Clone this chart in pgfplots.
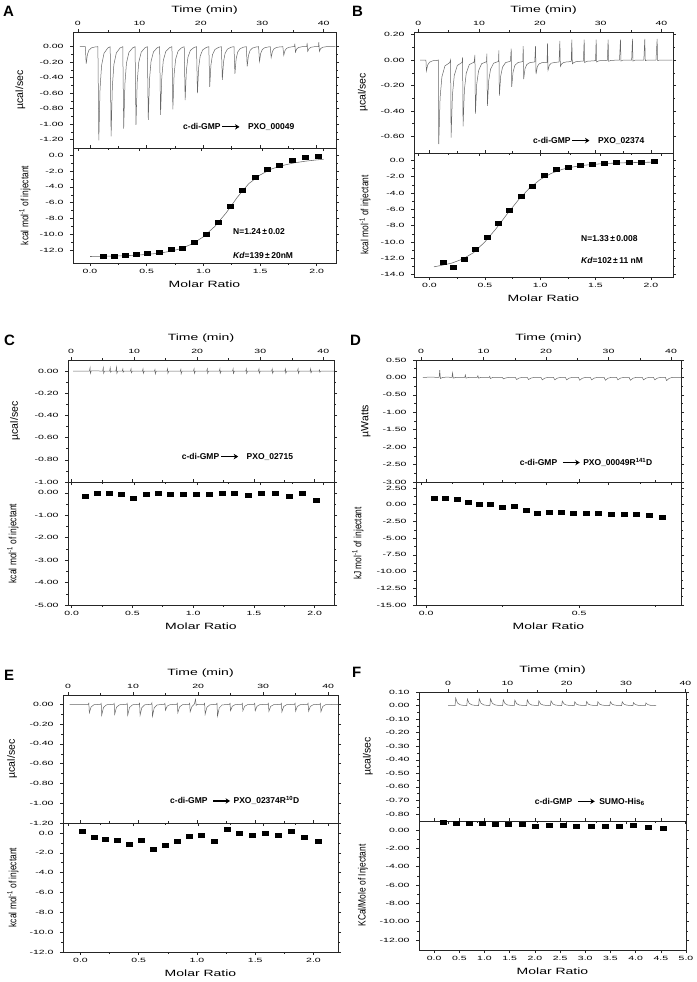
\documentclass[border=0pt]{standalone}
\usepackage{fontspec}
\setmainfont{Liberation Sans}
\usepackage{graphicx}
\usepackage{pgfplots}
\pgfplotsset{compat=1.18}
\usetikzlibrary{arrows.meta}

\newcommand{\arr}{\tikz[baseline=-0.6ex]\draw[line width=1.1pt,-{Stealth[length=4.5pt,width=5.5pt]}] (0,0)--(17pt,0);}

\pgfplotsset{
  itc/.style={
    scale only axis, anchor=north west, clip=true,
    axis line style={line width=0.7pt, black!85},
    every tick/.style={black!85, line width=0.5pt},
    major tick length=3pt, minor tick length=1.8pt,
    tick align=outside, minor tick num=1,
    scaled ticks=false,
    /pgf/number format/assume math mode=true,
    /pgf/number format/fixed, /pgf/number format/fixed zerofill,
    tick label style={font=\fontsize{10.5}{10}\selectfont},
    xticklabel={\scalebox{1}[0.58]{\axisdefaultticklabel}},
    yticklabel={\scalebox{1}[0.58]{\axisdefaultticklabel}},
    yticklabel style={xshift=-3pt},
    label style={font=\fontsize{14}{14}\selectfont},
  },
  top/.style={itc, xticklabel pos=upper, xtick={0,10,20,30,40},
    xticklabel style={/pgf/number format/precision=0},
    xlabel={\scalebox{1}[0.65]{Time (min)}}},
  bot/.style={itc, xlabel={\scalebox{1}[0.65]{Molar Ratio}},
    xticklabel style={/pgf/number format/precision=1}},
  yprec/.style={yticklabel style={/pgf/number format/precision=#1}},
  ylab/.style={ylabel style={at={(axis description cs:#1,0.5)}, anchor=center, font=\fontsize{10.5}{10}\selectfont}},
  trace/.style={no marks, line width=0.5pt, black!60},
  pts/.style={only marks, mark=square*, mark size=2pt, mark options={xscale=1.5, fill=black, draw=black}},
  fit/.style={no marks, line width=0.55pt, black!60},
}
\newcommand{\ucal}{\scalebox{1}[1]{µcal/sec}}
\newcommand{\kcal}{\scalebox{0.8}[1]{kcal mol\textsuperscript{-1} of injectant}}

\begin{document}
\begin{tikzpicture}
\useasboundingbox (0,0) rectangle (696pt,-982pt);

% ---------------- A ----------------
\begin{axis}[top, at={(73pt,-32pt)}, width=263pt, height=116pt,
  xmin=-0.8, xmax=42, ymin=-1.31, ymax=0.19,
  ytick={0,-0.2,-0.4,-0.6,-0.8,-1,-1.2}, yprec=2,
  ylab=-0.2, ylabel={\ucal}]
\addplot[trace] coordinates {(0.3,0)(1.2,0)(1.35,-0.22)(1.55,-0.099)(1.8,-0.044)(2.2,-0.015)(2.8,-0.003)
(3.25,0)(3.4,-1.21)(3.6,-0.545)(3.85,-0.242)(4.25,-0.085)(4.85,-0.018)
(5.25,0)(5.4,-1.16)(5.6,-0.522)(5.85,-0.232)(6.25,-0.081)(6.85,-0.017)
(7.3,0)(7.45,-1.06)(7.65,-0.477)(7.9,-0.212)(8.3,-0.074)(8.9,-0.016)
(9.3,0)(9.45,-1.01)(9.65,-0.455)(9.9,-0.202)(10.3,-0.071)(10.9,-0.015)
(11.3,0)(11.45,-0.945)(11.65,-0.425)(11.9,-0.189)(12.3,-0.066)(12.9,-0.014)
(13.3,0)(13.45,-0.88)(13.65,-0.396)(13.9,-0.176)(14.3,-0.062)(14.9,-0.013)
(15.3,0)(15.45,-0.81)(15.65,-0.365)(15.9,-0.162)(16.3,-0.057)(16.9,-0.012)
(17.3,0)(17.45,-0.69)(17.65,-0.311)(17.9,-0.138)(18.3,-0.048)(18.9,-0.01)
(19.3,0)(19.45,-0.6)(19.65,-0.27)(19.9,-0.12)(20.3,-0.042)(20.9,-0.009)
(21.3,0)(21.45,-0.52)(21.65,-0.234)(21.9,-0.104)(22.3,-0.036)(22.9,-0.008)
(23.35,0)(23.5,-0.43)(23.7,-0.194)(23.95,-0.086)(24.35,-0.03)(24.95,-0.006)
(25.4,0)(25.55,-0.35)(25.75,-0.158)(26.0,-0.07)(26.4,-0.025)(27.0,-0.005)
(27.4,0)(27.55,-0.255)(27.75,-0.115)(28.0,-0.051)(28.4,-0.018)(29.0,-0.004)
(29.4,0)(29.55,-0.19)(29.75,-0.086)(30.0,-0.038)(30.4,-0.013)(31.0,-0.003)
(31.3,0)(31.45,-0.14)(31.65,-0.063)(31.9,-0.028)(32.3,-0.01)(32.9,-0.002)
(33.35,0)(33.5,-0.11)(33.7,-0.05)(33.95,-0.022)(34.35,-0.008)(34.95,0)
(35.25,0)(35.3,0.04)(35.4,-0.07)(35.6,-0.03)(35.9,-0.01)(36.5,0)
(37.25,0)(37.3,0.05)(37.4,-0.06)(37.6,-0.025)(37.9,-0.008)(38.5,0)
(39.15,0)(39.2,0.06)(39.3,-0.06)(39.5,-0.025)(39.8,-0.008)(40.4,0)(41.9,0)};
\end{axis}
\begin{axis}[bot, at={(73pt,-148pt)}, width=263pt, height=115pt,
  xmin=-0.15, xmax=2.17, ymin=-13.6, ymax=0.9,
  xtick={0,0.5,1,1.5,2}, ytick={0,-2,-4,-6,-8,-10,-12}, yprec=1,
  ylab=-0.183, ylabel={\kcal}]
\addplot[fit] coordinates {(0.0,-12.78)(0.1,-12.76)(0.2,-12.73)(0.3,-12.69)(0.4,-12.62)(0.5,-12.52)(0.6,-12.38)(0.7,-12.15)(0.8,-11.8)(0.9,-11.2)(1.0,-10.3)(1.1,-9.0)(1.2,-7.3)(1.3,-5.3)(1.4,-3.6)(1.5,-2.5)(1.6,-1.75)(1.7,-1.3)(1.8,-0.98)(1.9,-0.76)(2.0,-0.6)(2.06,-0.52)};
\addplot[pts] coordinates {(0.112,-12.7)(0.212,-12.7)(0.309,-12.65)(0.406,-12.5)(0.506,-12.4)(0.609,-12.3)(0.712,-11.9)(0.815,-11.7)(0.918,-11.0)(1.024,-10.0)(1.132,-8.5)(1.235,-6.5)(1.344,-4.45)(1.453,-2.8)(1.559,-1.8)(1.671,-1.26)(1.782,-0.6)(1.894,-0.25)(2.015,-0.13)};
\end{axis}

% ---------------- B ----------------
\begin{axis}[top, at={(414pt,-32pt)}, width=259pt, height=121pt,
  xmin=-0.7, xmax=41.9, ymin=-0.73, ymax=0.22,
  ytick={0.2,0,-0.2,-0.4,-0.6}, yprec=2,
  ylab=-0.197, ylabel={\ucal}]
\addplot[trace] coordinates {(0.3,0)(1.26,0)(1.34,-0.084)(1.56,-0.038)(1.86,-0.017)(2.36,-0.006)(3.16,-0.003)
(3.29,0)(3.37,-0.66)(3.59,-0.297)(3.89,-0.132)(4.39,-0.046)(5.19,-0.02)
(5.32,0)(5.4,-0.61)(5.62,-0.275)(5.92,-0.122)(6.42,-0.043)(7.22,-0.018)
(7.29,0.02)(7.37,-0.52)(7.59,-0.234)(7.89,-0.104)(8.39,-0.036)(9.19,-0.016)
(9.32,0.04)(9.4,-0.42)(9.62,-0.189)(9.92,-0.084)(10.42,-0.029)(11.22,-0.013)
(11.29,0.05)(11.37,-0.36)(11.59,-0.162)(11.89,-0.072)(12.39,-0.025)(13.19,-0.011)
(13.26,0.075)(13.34,-0.28)(13.56,-0.126)(13.86,-0.056)(14.36,-0.02)(15.16,-0.01)
(15.29,0.09)(15.37,-0.21)(15.59,-0.095)(15.89,-0.042)(16.39,-0.02)(17.19,-0.012)
(17.26,0.11)(17.34,-0.15)(17.56,-0.068)(17.86,-0.035)(18.36,-0.02)(19.16,-0.015)
(19.29,0.11)(19.37,-0.11)(19.59,-0.05)(19.89,-0.03)(20.39,-0.02)(21.19,-0.018)
(21.26,0.13)(21.34,-0.08)(21.56,-0.04)(21.86,-0.025)(22.36,-0.02)(23.16,-0.015)
(23.29,0.15)(23.37,-0.05)(23.59,-0.03)(23.89,-0.02)(24.39,-0.015)(25.16,-0.012)
(25.26,0.16)(25.34,-0.03)(25.59,-0.02)(26.0,-0.012)(27.16,-0.008)
(27.29,0.16)(27.37,-0.02)(27.7,-0.01)(29.16,-0.005)
(29.26,0.16)(29.34,-0.015)(29.7,-0.006)(31.1,-0.003)
(31.23,0.16)(31.31,-0.01)(31.7,-0.003)(33.1,0)
(33.26,0.16)(33.34,-0.008)(33.7,0)(35.1,0)
(35.23,0.165)(35.31,-0.008)(35.7,0)(37.1,0)
(37.26,0.165)(37.34,-0.005)(37.7,0)(39.1,0)
(39.29,0.165)(39.37,-0.005)(39.7,0)(41.8,0)};
\end{axis}
\begin{axis}[bot, at={(414pt,-153pt)}, width=259pt, height=124pt,
  xmin=-0.14, xmax=2.2, ymin=-14.3, ymax=0.9,
  xtick={0,0.5,1,1.5,2}, ytick={0,-2,-4,-6,-8,-10,-12,-14}, yprec=1,
  ylab=-0.189, ylabel={\kcal}]
\addplot[fit] coordinates {(0.04,-13.05)(0.1,-12.9)(0.2,-12.6)(0.3,-12.1)(0.4,-11.3)(0.5,-10.0)(0.6,-8.4)(0.7,-6.6)(0.8,-4.9)(0.9,-3.45)(1.0,-2.35)(1.1,-1.6)(1.2,-1.1)(1.3,-0.8)(1.4,-0.6)(1.5,-0.47)(1.6,-0.38)(1.8,-0.28)(2.03,-0.22)};
\addplot[pts] coordinates {(0.12,-12.44)(0.216,-13.1)(0.318,-12.16)(0.417,-10.9)(0.519,-9.37)(0.621,-7.65)(0.723,-6.06)(0.828,-4.42)(0.93,-3.15)(1.037,-1.8)(1.145,-1.06)(1.25,-0.9)(1.361,-0.57)(1.472,-0.45)(1.58,-0.29)(1.691,-0.25)(1.805,-0.2)(1.916,-0.2)(2.03,-0.12)};
\end{axis}

% ---------------- C ----------------
\begin{axis}[top, at={(68pt,-360pt)}, width=266pt, height=122pt,
  xmin=-0.5, xmax=41.7, ymin=-1.0, ymax=0.1,
  ytick={0,-0.2,-0.4,-0.6,-0.8,-1}, yprec=2,
  ylab=-0.199, ylabel={\ucal}]
\addplot[trace] coordinates {(0.3,0)(2.9,0)(3.0,0.03)(3.05,-0.02)(3.2,0.003)(5.0,0)(5.1,0.03)(5.15,-0.02)(5.3,0)(6.1,0)(6.2,0.03)(6.25,-0.01)(6.4,0)(7.1,0)(7.2,0.035)(7.25,-0.02)(7.4,0)(8.1,0)(8.2,0.02)(8.25,-0.01)(8.4,0)(9.4,0)(9.5,0.02)(9.55,-0.015)(9.7,0)(11.3,0)(11.4,0.02)(11.45,-0.02)(11.6,0)(13.2,0)(13.3,0.015)(13.35,-0.025)(13.5,0)(15.2,0)(15.3,0.02)(15.35,-0.02)(15.5,0)(17.3,0)(17.4,0.015)(17.45,-0.025)(17.6,0)(19.4,0)(19.5,0.02)(19.55,-0.02)(19.7,0)(21.5,0)(21.6,0.02)(21.65,-0.02)(21.8,0)(23.5,0)(23.6,0.02)(23.65,-0.02)(23.8,0)(25.6,0)(25.7,0.02)(25.75,-0.02)(25.9,0)(27.7,0)(27.8,0.02)(27.85,-0.02)(28.0,0)(29.7,0)(29.8,0.02)(29.85,-0.02)(30.0,0)(31.8,0)(31.9,0.02)(31.95,-0.02)(32.1,0)(33.9,0)(34.0,0.02)(34.05,-0.02)(34.2,0)(35.9,0)(36.0,0.02)(36.05,-0.02)(36.2,0)(37.9,0)(38.0,0.02)(38.05,-0.015)(38.2,0)(39.3,0)(39.4,0.01)(39.45,-0.01)(39.6,0)(41.7,0)};
\end{axis}
\begin{axis}[bot, at={(68pt,-482pt)}, width=266pt, height=123pt,
  xmin=-0.03, xmax=2.16, ymin=-5, ymax=0.48,
  xtick={0,0.5,1,1.5,2}, ytick={0,-1,-2,-3,-4,-5}, yprec=2,
  ylab=-0.207, ylabel={\kcal}]
\addplot[pts] coordinates {(0.115,-0.16)(0.211,-0.02)(0.31,-0.03)(0.408,-0.06)(0.507,-0.22)(0.611,-0.06)(0.712,-0.04)(0.814,-0.07)(0.918,-0.06)(1.025,-0.06)(1.132,-0.06)(1.238,0.0)(1.342,-0.04)(1.455,-0.12)(1.564,0.0)(1.674,0.0)(1.789,-0.16)(1.899,-0.04)(2.014,-0.31)};
\end{axis}

% ---------------- D ----------------
\begin{axis}[top, at={(416pt,-360pt)}, width=265pt, height=122pt,
  xmin=-0.8, xmax=41.6, ymin=-3, ymax=0.5,
  ytick={0.5,0,-0.5,-1,-1.5,-2,-2.5,-3}, yprec=2,
  ylab=-0.189, ylabel={µWatts}]
\addplot[trace] coordinates {(0.3,0)(1.5,0.01)(2.9,0)(3.0,0.21)(3.1,-0.03)(3.5,0)(4.2,0.01)(4.95,0)(5.05,0.13)(5.15,-0.02)(5.6,0)(7.0,0)(7.1,0.07)(7.2,-0.02)(7.6,0)(9.0,0)(9.1,0.05)(9.2,-0.02)(9.6,0)(10.9,0)(11.0,0.03)(11.1,-0.03)(11.5,0)(13.0,0)(13.2,-0.04)(13.6,-0.012)(14.1,0)(15.1,0)(15.3,-0.06)(15.7,-0.018)(16.2,0)(17.0,0)(17.2,-0.06)(17.6,-0.018)(18.1,0)(19.2,0)(19.4,-0.07)(19.8,-0.02)(20.3,0)(21.2,0)(21.4,-0.07)(21.8,-0.02)(22.3,0)(23.1,0)(23.3,-0.07)(23.7,-0.02)(24.2,0)(25.2,0)(25.4,-0.08)(25.8,-0.024)(26.3,0)(27.1,0)(27.3,-0.07)(27.7,-0.02)(28.2,0)(29.3,0)(29.5,-0.08)(29.9,-0.024)(30.4,0)(31.3,0)(31.5,-0.07)(31.9,-0.02)(32.4,0)(33.3,0)(33.5,-0.08)(33.9,-0.024)(34.4,0)(35.4,0)(35.6,-0.07)(36.0,-0.02)(36.5,0)(37.2,0)(37.4,-0.07)(37.8,-0.02)(38.3,0)(39.1,0)(39.3,-0.09)(39.7,-0.027)(40.2,0)(41.6,0)};
\end{axis}
\begin{axis}[bot, at={(416pt,-482pt)}, width=265pt, height=123pt,
  xmin=-0.033, xmax=0.833, ymin=-15, ymax=3.4,
  xtick={0,0.5}, minor xtick={0.25,0.75}, minor x tick num=0,
  ytick={2.5,0,-2.5,-5,-7.5,-10,-12.5,-15}, yprec=2,
  ylab=-0.219, ylabel={\scalebox{0.8}[1]{kJ mol\textsuperscript{-1} of injectant}}]
\addplot[pts] coordinates {(0.027,0.98)(0.064,0.98)(0.10,0.83)(0.136,0.44)(0.173,0.15)(0.211,0.1)(0.249,-0.44)(0.287,-0.29)(0.326,-0.78)(0.364,-1.27)(0.403,-1.13)(0.443,-1.18)(0.482,-1.32)(0.522,-1.32)(0.564,-1.27)(0.605,-1.47)(0.646,-1.47)(0.688,-1.47)(0.73,-1.62)(0.771,-1.91)};
\end{axis}

% ---------------- E ----------------
\begin{axis}[top, at={(63pt,-695pt)}, width=275pt, height=128pt,
  xmin=-0.77, xmax=41.5, ymin=-1.2, ymax=0.094,
  ytick={0,-0.2,-0.4,-0.6,-0.8,-1,-1.2}, yprec=2,
  ylab=-0.185, ylabel={\ucal}]
\addplot[trace] coordinates {(0.25,0)(3.1,0)(3.2,0.01)(3.28,-0.085)(3.55,-0.026)(4.0,-0.004)(5.0,0)(5.1,0.01)(5.18,-0.11)(5.45,-0.033)(5.9,-0.005)(7.0,0)(7.1,0.01)(7.18,-0.1)(7.45,-0.03)(7.9,-0.005)(9.0,0)(9.1,0.01)(9.18,-0.11)(9.45,-0.033)(9.9,-0.005)(10.9,0)(11.0,0.01)(11.08,-0.11)(11.35,-0.033)(11.8,-0.005)(12.8,0)(12.9,0.015)(12.98,-0.12)(13.25,-0.036)(13.7,-0.006)(14.8,0)(14.9,0.01)(14.98,-0.06)(15.25,-0.018)(15.7,-0.003)(16.7,0)(16.8,0.01)(16.88,-0.085)(17.15,-0.026)(17.6,-0.004)(18.6,0)(18.7,0.01)(18.78,-0.075)(19.05,-0.022)(19.4,0)(19.6,0.05)(19.7,-0.01)(19.9,0)(20.9,0)(21.0,0.01)(21.08,-0.1)(21.35,-0.03)(21.8,-0.005)(22.8,0)(22.9,0.01)(22.98,-0.12)(23.25,-0.036)(23.7,-0.006)(24.8,0)(24.9,0.01)(24.98,-0.065)(25.25,-0.02)(25.7,-0.003)(26.7,0)(26.8,0.01)(26.88,-0.065)(27.15,-0.02)(27.6,-0.003)(28.6,0)(28.7,0.01)(28.78,-0.065)(29.05,-0.02)(29.5,-0.003)(30.7,0)(30.8,0.01)(30.88,-0.07)(31.15,-0.021)(31.6,-0.004)(32.7,0)(32.8,0.01)(32.88,-0.075)(33.15,-0.022)(33.6,-0.004)(34.8,0)(34.9,0.01)(34.98,-0.07)(35.25,-0.021)(35.7,-0.004)(36.8,0)(36.9,0.01)(36.98,-0.07)(37.25,-0.021)(37.7,-0.004)(38.7,0)(38.8,0.01)(38.88,-0.075)(39.15,-0.022)(39.6,-0.004)(41.5,0)};
\end{axis}
\begin{axis}[bot, at={(63pt,-823pt)}, width=275pt, height=129pt,
  xmin=-0.15, xmax=2.21, ymin=-12, ymax=1.0,
  xtick={0,0.5,1,1.5,2}, ytick={0,-2,-4,-6,-8,-10,-12}, yprec=1,
  ylab=-0.182, ylabel={\kcal}]
\addplot[pts] coordinates {(0.014,0.14)(0.114,-0.45)(0.214,-0.62)(0.314,-0.69)(0.414,-1.14)(0.517,-0.72)(0.62,-1.66)(0.723,-1.21)(0.829,-0.79)(0.934,-0.31)(1.04,-0.24)(1.149,-0.86)(1.257,0.34)(1.366,-0.07)(1.474,-0.21)(1.586,-0.03)(1.697,-0.24)(1.811,0.14)(1.923,-0.41)(2.04,-0.86)};
\end{axis}

% ---------------- F ----------------
\begin{axis}[top, at={(419pt,-692pt)}, width=267pt, height=129pt,
  xmin=-4.9, xmax=40.1, ymin=-0.852, ymax=0.1,
  ytick={0.1,0,-0.1,-0.2,-0.3,-0.4,-0.5,-0.6,-0.7,-0.8}, yprec=2,
  ylab=-0.191, ylabel={\ucal}]
\addplot[trace] coordinates {(0,0)(1.18,0)(1.28,0.055)(1.58,0.019)(2.03,0.0055)(2.6,0.001)(3.15,0)(3.25,0.048)(3.55,0.017)(4.0,0.005)(4.6,0.001)(5.15,0)(5.25,0.05)(5.55,0.0175)(6.0,0.005)(6.6,0.001)(7.05,0)(7.15,0.05)(7.45,0.0175)(7.9,0.005)(8.5,0.001)(9.2,0)(9.3,0.043)(9.6,0.015)(10.05,0.004)(10.6,0.001)(11.15,0)(11.25,0.04)(11.55,0.014)(12.0,0.004)(12.6,0.001)(13.25,0)(13.35,0.043)(13.65,0.015)(14.1,0.004)(14.7,0.001)(15.2,0)(15.3,0.035)(15.6,0.012)(16.05,0.0035)(16.6,0.001)(17.25,0)(17.35,0.035)(17.65,0.012)(18.1,0.0035)(18.7,0.001)(19.15,0)(19.25,0.033)(19.55,0.012)(20.0,0.003)(20.6,0.001)(21.25,0)(21.35,0.028)(21.65,0.01)(22.1,0.003)(22.7,0.001)(23.25,0)(23.35,0.03)(23.65,0.01)(24.1,0.003)(24.7,0.001)(25.15,0)(25.25,0.028)(25.55,0.01)(26.0,0.003)(26.6,0.001)(27.25,0)(27.35,0.028)(27.65,0.01)(28.1,0.003)(28.7,0.001)(29.25,0)(29.35,0.028)(29.65,0.01)(30.1,0.003)(30.7,0.001)(31.15,0)(31.25,0.022)(31.55,0.008)(32.0,0.002)(32.6,0)(33.25,0)(33.35,0.02)(33.65,0.007)(34.1,0.002)(35.05,0)};
\end{axis}
\begin{axis}[bot, at={(419pt,-821pt)}, width=267pt, height=129pt,
  xmin=-0.3, xmax=5.0, ymin=-13.1, ymax=0.98,
  xtick={0,0.5,1,1.5,2,2.5,3,3.5,4,4.5,5}, minor x tick num=0,
  ytick={0,-2,-4,-6,-8,-10,-12}, yprec=2,
  ylab=-0.21, ylabel={\scalebox{0.8}[1]{KCal/Mole of Injectant}}]
\addplot[pts] coordinates {(0.19,0.8)(0.44,0.69)(0.69,0.73)(0.95,0.73)(1.21,0.62)(1.47,0.62)(1.74,0.58)(2.01,0.44)(2.29,0.51)(2.56,0.51)(2.83,0.36)(3.11,0.44)(3.39,0.4)(3.67,0.4)(3.96,0.55)(4.25,0.25)(4.54,0.22)};
\end{axis}

% ---------------- panel letters and annotations ----------------
\begin{scope}[every node/.style={anchor=base west, font=\bfseries\fontsize{15}{15}\selectfont, inner sep=0pt}]
\node at (3pt,-17pt) {A};
\node at (352pt,-17pt) {B};
\node at (4pt,-345pt) {C};
\node at (350pt,-345pt) {D};
\node at (4pt,-680pt) {E};
\node at (352pt,-677pt) {F};
\end{scope}
\begin{scope}[every node/.style={anchor=west, font=\bfseries\fontsize{8.5}{9}\selectfont, inner sep=0pt}]
\node at (183pt,-127pt) {c-di-GMP\,\arr\hspace{8pt}PXO\_00049};
\node at (233pt,-231.7pt) {N=1.24\,±\,0.02};
\node at (233pt,-255pt) {\textit{Kd}=139\,±\,20nM};
\node at (533pt,-140.7pt) {c-di-GMP\,\arr\hspace{8pt}PXO\_02374};
\node at (581pt,-238.3pt) {N=1.33\,±\,0.008};
\node at (581pt,-260pt) {\textit{Kd}=102\,±\,11 nM};
\node at (181.7pt,-456.7pt) {c-di-GMP\,\arr\hspace{8pt}PXO\_02715};
\node at (519.7pt,-462.3pt) {c-di-GMP\hspace{5pt}\arr\hspace{3pt}PXO\_00049R\textsuperscript{141}D};
\node at (170pt,-800.7pt) {c-di-GMP\hspace{5pt}\arr\hspace{3pt}PXO\_02374R\textsuperscript{10}D};
\node at (534.7pt,-801.7pt) {c-di-GMP\hspace{5pt}\arr\hspace{4pt}SUMO-His\textsubscript{6}};
\end{scope}
\end{tikzpicture}
\end{document}
